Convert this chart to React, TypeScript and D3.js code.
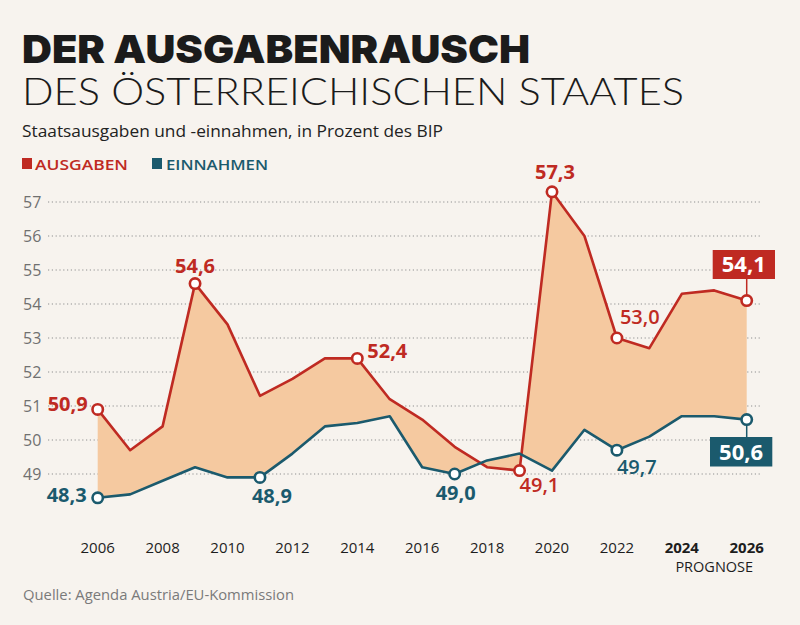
import React from 'react';
import * as d3 from 'd3';

const years = [2006, 2007, 2008, 2009, 2010, 2011, 2012, 2013, 2014, 2015, 2016, 2017, 2018, 2019, 2020, 2021, 2022, 2023, 2024, 2025, 2026];
const ausgaben = [50.9, 49.7, 50.4, 54.6, 53.4, 51.3, 51.8, 52.4, 52.4, 51.2, 50.6, 49.8, 49.2, 49.1, 57.3, 56.0, 53.0, 52.7, 54.3, 54.4, 54.1];
const einnahmen = [48.3, 48.4, 48.8, 49.2, 48.9, 48.9, 49.6, 50.4, 50.5, 50.7, 49.2, 49.0, 49.4, 49.6, 49.1, 50.3, 49.7, 50.1, 50.7, 50.7, 50.6];
const yTicks = [49, 50, 51, 52, 53, 54, 55, 56, 57];
const xTickYears = [2006, 2008, 2010, 2012, 2014, 2016, 2018, 2020, 2022, 2024, 2026];
const boldYears = [2024, 2026];
const redMarked = [2006, 2009, 2014, 2019, 2020, 2022, 2026];
const tealMarked = [2006, 2011, 2017, 2022, 2026];
const boxedYear = 2026;

const RED = '#bf2a22';
const TEAL = '#1b5a6d';
const FILL = '#f5c9a0';
const BG = '#f7f3ee';

// label placement (style), keyed by year
const redLabelStyle: Record<number, { dx: number; dy: number; anchor: string; weight: number }> = {
  2006: { dx: -10, dy: 2, anchor: 'end', weight: 700 },
  2009: { dx: 0, dy: -11, anchor: 'middle', weight: 700 },
  2014: { dx: 10, dy: 0, anchor: 'start', weight: 700 },
  2019: { dx: 0, dy: 21, anchor: 'start', weight: 600 },
  2020: { dx: 3, dy: -13, anchor: 'middle', weight: 700 },
  2022: { dx: 3, dy: -14, anchor: 'start', weight: 600 },
};
const tealLabelStyle: Record<number, { dx: number; dy: number; anchor: string; weight: number }> = {
  2006: { dx: -11, dy: 4, anchor: 'end', weight: 700 },
  2011: { dx: 12, dy: 26, anchor: 'middle', weight: 700 },
  2017: { dx: 1, dy: 26, anchor: 'middle', weight: 700 },
  2022: { dx: 0, dy: 24, anchor: 'start', weight: 600 },
};

const fmt = (v: number) => v.toFixed(1).replace('.', ',');

export default function App() {
  const x = d3.scaleLinear().domain([2006, 2026]).range([97.7, 746.7]);
  const y = d3.scaleLinear().domain([49, 57]).range([474, 202]);

  const rows = years.map((yr, i) => ({ yr, a: ausgaben[i], e: einnahmen[i] }));
  const area = d3.area<any>().x(d => x(d.yr)).y0(d => y(d.e)).y1(d => y(d.a));
  const lineA = d3.line<any>().x(d => x(d.yr)).y(d => y(d.a));
  const lineE = d3.line<any>().x(d => x(d.yr)).y(d => y(d.e));

  const body = '"Open Sans", "Noto Sans", sans-serif';
  const idxBox = years.indexOf(boxedYear);
  const bx = x(boxedYear);
  const redBoxY = y(ausgaben[idxBox]);
  const tealBoxY = y(einnahmen[idxBox]);

  return (
    <svg width={800} height={625} style={{ position: 'absolute', left: 0, top: 0, display: 'block' }} fontFamily={body}>
      <rect width={800} height={625} fill={BG} />
      <text x={22} y={63} fontFamily="Inter, Lato, sans-serif" fontWeight={900} fontSize={38.5} fill="#1b1b1b" textLength={508} lengthAdjust="spacingAndGlyphs">DER AUSGABENRAUSCH</text>
      <text x={22} y={105} fontFamily="Lato, Inter, sans-serif" fontWeight={300} fontSize={38} fill="#1b1b1b" textLength={662} lengthAdjust="spacingAndGlyphs">DES ÖSTERREICHISCHEN STAATES</text>
      <text x={22} y={137} fontSize={16.5} fill="#222" textLength={421} lengthAdjust="spacingAndGlyphs">Staatsausgaben und -einnahmen, in Prozent des BIP</text>

      <rect x={22} y={158} width={10} height={11} fill={RED} />
      <text x={35} y={170} fontSize={15} fontWeight={600} fill={RED} textLength={93} lengthAdjust="spacingAndGlyphs">AUSGABEN</text>
      <rect x={152} y={158} width={10} height={11} fill={TEAL} />
      <text x={166} y={170} fontSize={15} fontWeight={600} fill={TEAL} textLength={102} lengthAdjust="spacingAndGlyphs">EINNAHMEN</text>

      {yTicks.map(t => (
        <g key={t}>
          <line x1={48} x2={762} y1={y(t)} y2={y(t)} stroke="#8f8f8f" strokeWidth={1.2} strokeDasharray="1.2,2.6" />
          <text x={23} y={y(t) + 6} fontSize={16} fill="#707070">{t}</text>
        </g>
      ))}

      <path d={area(rows) || ''} fill={FILL} />
      <path d={lineA(rows) || ''} fill="none" stroke={RED} strokeWidth={2.6} strokeLinejoin="round" />
      <path d={lineE(rows) || ''} fill="none" stroke={TEAL} strokeWidth={2.6} strokeLinejoin="round" />

      {/* connectors for boxed labels */}
      <line x1={bx} x2={bx} y1={279} y2={redBoxY} stroke={RED} strokeWidth={1.5} />
      <line x1={bx} x2={bx} y1={tealBoxY} y2={437} stroke={TEAL} strokeWidth={1.5} />

      {redMarked.map(yr => {
        const v = ausgaben[years.indexOf(yr)];
        return <circle key={'rc' + yr} cx={x(yr)} cy={y(v)} r={5.2} fill="#fff" stroke={RED} strokeWidth={2.6} />;
      })}
      {tealMarked.map(yr => {
        const v = einnahmen[years.indexOf(yr)];
        return <circle key={'tc' + yr} cx={x(yr)} cy={y(v)} r={5.2} fill="#fff" stroke={TEAL} strokeWidth={2.6} />;
      })}

      {redMarked.filter(yr => redLabelStyle[yr]).map(yr => {
        const v = ausgaben[years.indexOf(yr)];
        const s = redLabelStyle[yr];
        return <text key={'rl' + yr} x={x(yr) + s.dx} y={y(v) + s.dy} textAnchor={s.anchor} fontSize={20} fontWeight={s.weight} fill={RED}>{fmt(v)}</text>;
      })}
      {tealMarked.filter(yr => tealLabelStyle[yr]).map(yr => {
        const v = einnahmen[years.indexOf(yr)];
        const s = tealLabelStyle[yr];
        return <text key={'tl' + yr} x={x(yr) + s.dx} y={y(v) + s.dy} textAnchor={s.anchor} fontSize={20} fontWeight={s.weight} fill={TEAL}>{fmt(v)}</text>;
      })}

      <rect x={712.7} y={250} width={62.3} height={29} fill={RED} />
      <text x={743.8} y={272} textAnchor="middle" fontSize={22} fontWeight={700} fill="#fff">{fmt(ausgaben[idxBox])}</text>
      <rect x={710} y={437} width={62.3} height={29.5} fill={TEAL} />
      <text x={741.1} y={459.5} textAnchor="middle" fontSize={22} fontWeight={700} fill="#fff">{fmt(einnahmen[idxBox])}</text>

      {xTickYears.map(yr => (
        <text key={'x' + yr} x={x(yr)} y={553} textAnchor="middle" fontSize={15} fontWeight={boldYears.includes(yr) ? 700 : 400} fill="#1d1d1d">{yr}</text>
      ))}
      <text x={(x(2024) + x(2026)) / 2} y={572} textAnchor="middle" fontSize={14.5} fill="#1d1d1d">PROGNOSE</text>

      <text x={23} y={600} fontSize={15} fill="#7a7a7a" textLength={271} lengthAdjust="spacingAndGlyphs">Quelle: Agenda Austria/EU-Kommission</text>
    </svg>
  );
}
